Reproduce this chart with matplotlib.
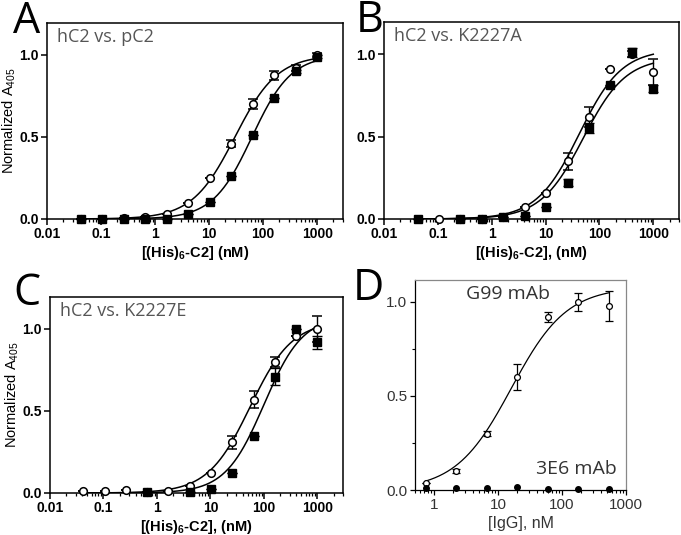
#!/usr/bin/env python3
"""Four-panel binding curves (A-C: (His)6-C2 titrations, D: IgG titration)."""

import matplotlib

matplotlib.use("Agg")
import matplotlib.pyplot as plt
import numpy as np
from matplotlib.ticker import FixedLocator, LogLocator, NullFormatter

plt.rcParams["font.family"] = ["Liberation Sans", "DejaVu Sans"]
plt.rcParams["mathtext.fontset"] = "custom"
plt.rcParams["mathtext.rm"] = "Liberation Sans"
plt.rcParams["mathtext.bf"] = "Liberation Sans:bold"

# --- data: C2 titrations (2.5-fold dilutions, nM) ---
conc = [0.042, 0.105, 0.262, 0.655, 1.64, 4.1, 10.24, 25.6, 64, 160, 400, 1000]

a_open = [0.0, 0.0, 0.005, 0.01, 0.03, 0.10, 0.25, 0.46, 0.70, 0.875, 0.92, 1.0]
a_open_err = [0, 0, 0, 0, 0, 0, 0, 0.02, 0.03, 0.025, 0.02, 0.01]
a_fill = [0.0, 0.0, 0.0, 0.0, 0.0, 0.03, 0.105, 0.265, 0.51, 0.74, 0.90, 0.99]
a_fill_err = [0, 0, 0, 0, 0, 0, 0, 0, 0, 0, 0.01, 0.01]

b_open = [np.nan, 0.0, 0.0, 0.0, 0.01, 0.07, 0.16, 0.35, 0.62, 0.91, 1.0, 0.89]
b_open_err = [0, 0, 0, 0, 0, 0, 0, 0.05, 0.06, 0, 0.02, 0.08]
b_fill = [0.0, np.nan, 0.0, 0.0, 0.01, 0.02, 0.07, 0.22, 0.55, 0.81, 1.01, 0.79]
b_fill_err = [0, 0, 0, 0, 0, 0, 0, 0.02, 0.03, 0, 0.03, 0.02]

c_open = [0.015, 0.01, 0.02, 0.005, 0.015, 0.04, 0.12, 0.31, 0.57, 0.80, 0.96, 1.0]
c_open_err = [0, 0, 0, 0, 0, 0, 0, 0.04, 0.05, 0.03, 0, 0.08]
c_fill = [np.nan, np.nan, np.nan, 0.005, np.nan, 0.005, 0.025, 0.12, 0.35, 0.71, 1.0, 0.92]
c_fill_err = [0, 0, 0, 0, 0, 0, 0, 0, 0, 0.05, 0, 0.04]

# Hill fit parameters (top, EC50 nM, slope)
fit_a = [(1.0, 30.0, 1.1), (1.0, 62.0, 1.2)]
fit_b = [(1.03, 42.0, 1.1), (0.98, 50.0, 1.1)]
fit_c = [(1.05, 55.0, 1.1), (1.08, 100.0, 1.2)]

# --- data: IgG titration (3-fold dilutions, nM) ---
igg = [0.74, 2.2, 6.6, 20, 60, 180, 540]
g99 = [0.035, 0.10, 0.30, 0.60, 0.92, 1.0, 0.98]
g99_err = [0.0, 0.012, 0.012, 0.07, 0.025, 0.05, 0.08]
e36 = [0.01, 0.01, 0.01, 0.015, 0.005, 0.005, 0.005]
fit_d = (1.08, 16.0, 1.0)

W, H = 681, 535


def rect(l, r, t, b):
    return [l / W, 1 - b / H, (r - l) / W, (b - t) / H]


def hill(x, top, ec50, n):
    return top * x**n / (ec50**n + x**n)


def style_c2(ax, title, xlabel, ylabel=True):
    ax.set_xscale("log")
    ax.set_xlim(0.01, 3000)
    ax.set_ylim(0, 1.195)
    ax.set_xticks([0.01, 0.1, 1, 10, 100, 1000])
    ax.set_xticklabels(["0.01", "0.1", "1", "10", "100", "1000"])
    ax.xaxis.set_minor_locator(LogLocator(base=10, subs=np.arange(2, 10)))
    ax.xaxis.set_minor_formatter(NullFormatter())
    ax.set_yticks([0, 0.5, 1.0])
    ax.set_yticklabels(["0.0", "0.5", "1.0"])
    ax.tick_params(which="major", length=4, width=1.1, labelsize=10, pad=2)
    ax.tick_params(which="minor", length=2.5, width=0.9)
    for lab in ax.get_xticklabels() + ax.get_yticklabels():
        lab.set_fontweight("bold")
    for s in ax.spines.values():
        s.set_linewidth(1.1)
    ax.set_xlabel(xlabel, fontsize=10.5, fontweight="bold", labelpad=2)
    if ylabel:
        ax.set_ylabel(r"Normalized A$_{405}$", fontsize=10.5)
        ax.yaxis.set_label_coords(-0.098, 0.5)
    ax.text(0.035, 0.93, title, transform=ax.transAxes, fontsize=13,
            color="#555555", family=["Open Sans", "DejaVu Sans"], va="center")


def draw_c2(ax, y_open, e_open, y_fill, e_fill, fits):
    xs = np.logspace(np.log10(0.042), np.log10(1000), 300)
    for top, ec50, n in fits:
        ax.plot(xs, hill(xs, top, ec50, n), color="black", lw=1.1, zorder=2)
    ax.errorbar(conc, y_open, yerr=e_open, fmt="o", ms=5.5, mfc="white",
                mec="black", mew=1.1, ecolor="black", elinewidth=1.0,
                capsize=3.5, capthick=1.0, zorder=3, clip_on=False)
    ax.errorbar(conc, y_fill, yerr=e_fill, fmt="s", ms=5.2, mfc="black",
                mec="black", ecolor="black", elinewidth=1.0,
                capsize=3.5, capthick=1.0, zorder=4, clip_on=False)


fig = plt.figure(figsize=(W / 100, H / 100), dpi=100)

ax_a = fig.add_axes(rect(47, 343, 23, 219))
draw_c2(ax_a, a_open, a_open_err, a_fill, a_fill_err, fit_a)
style_c2(ax_a, "hC2 vs. pC2", r"[(His)$_\mathbf{6}$-C2] (nM)")

ax_b = fig.add_axes(rect(384, 679, 22, 219))
draw_c2(ax_b, b_open, b_open_err, b_fill, b_fill_err, fit_b)
style_c2(ax_b, "hC2 vs. K2227A", r"[(His)$_\mathbf{6}$-C2], (nM)", ylabel=False)

ax_c = fig.add_axes(rect(50, 343, 297, 493))
draw_c2(ax_c, c_open, c_open_err, c_fill, c_fill_err, fit_c)
style_c2(ax_c, "hC2 vs. K2227E", r"[(His)$_\mathbf{6}$-C2], (nM)")

# panel D
ax_d = fig.add_axes(rect(415, 626, 280, 490))
xs = np.logspace(np.log10(igg[0]), np.log10(igg[-1]), 300)
ax_d.plot(xs, hill(xs, *fit_d), color="black", lw=0.9, zorder=2)
ax_d.errorbar(igg, g99, yerr=g99_err, fmt="o", ms=4.2, mfc="white", mec="black",
              mew=0.9, ecolor="black", elinewidth=0.9, capsize=3, capthick=0.9,
              zorder=3, clip_on=False)
ax_d.plot(igg, e36, "o", ms=4, color="black", zorder=4, clip_on=False)
ax_d.set_xscale("log")
ax_d.set_xlim(0.5, 1000)
ax_d.set_ylim(0, 1.117)
ax_d.set_xticks([1, 10, 100, 1000])
ax_d.set_xticklabels(["1", "10", "100", "1000"])
ax_d.xaxis.set_minor_locator(LogLocator(base=10, subs=np.arange(2, 10)))
ax_d.xaxis.set_minor_formatter(NullFormatter())
ax_d.set_yticks([0, 0.5, 1.0])
ax_d.set_yticklabels(["0.0", "0.5", "1.0"])
ax_d.yaxis.set_minor_locator(FixedLocator([0.25, 0.75]))
ax_d.tick_params(which="major", length=3.5, width=0.9, labelsize=11,
                 labelcolor="#333333", pad=2)
ax_d.tick_params(which="minor", length=2, width=0.8)
for side in ("top", "right"):
    ax_d.spines[side].set_color("#888888")
for s in ax_d.spines.values():
    s.set_linewidth(0.9)
ax_d.set_xlabel("[IgG], nM", fontsize=11.5, color="#333333", labelpad=3)
ax_d.text(14, 1.04, "G99 mAb", fontsize=14, color="#333333",
          family=["Open Sans", "DejaVu Sans"], ha="center", va="center")
ax_d.text(165, 0.11, "3E6 mAb", fontsize=14, color="#333333",
          family=["Open Sans", "DejaVu Sans"], ha="center", va="center")

# panel letters
for lab, x, y in [("A", 27, 33), ("B", 370, 32), ("C", 27, 305), ("D", 368, 300)]:
    fig.text(x / W, 1 - y / H, lab, fontsize=31, ha="center", va="baseline",
             family=["Open Sans", "DejaVu Sans"])

fig.savefig("out.png", dpi=100)
